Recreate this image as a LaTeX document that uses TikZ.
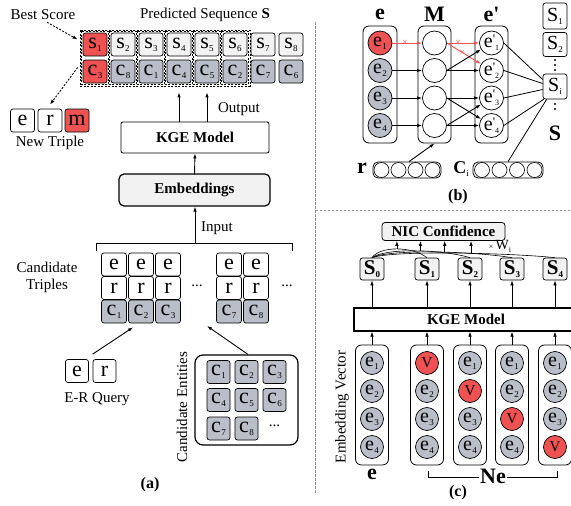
\documentclass[tikz,border=0pt]{standalone}
\usepackage{fontspec}
\setmainfont{Liberation Serif}
\usetikzlibrary{arrows.meta,calc}
\definecolor{cred}{RGB}{238,82,82}
\definecolor{cgray}{RGB}{186,190,200}
\definecolor{clight}{RGB}{242,242,242}
\definecolor{cline}{RGB}{150,150,150}
\newcommand\bigf{\fontsize{22}{22}\selectfont}
\newcommand\midf{\fontsize{20}{20}\selectfont}
\newcommand\lblf{\fontsize{15}{17}\selectfont}
\newcommand\bx[2]{#1\kern0.3pt\raisebox{-3pt}{\fontsize{9}{9}\selectfont #2}}
\newcommand\ep[1]{e\raisebox{4pt}{\fontsize{13}{13}\selectfont\textquotesingle}\raisebox{-3pt}{\fontsize{8}{8}\selectfont #1}}
\begin{document}
\begin{tikzpicture}[x=1pt,y=-1pt,
  sq/.style={draw, rounded corners=2.5pt, line width=0.7pt, minimum width=24pt, minimum height=23pt, inner sep=0pt, font=\bigf},
  circ/.style={draw, circle, line width=0.7pt, minimum size=24pt, inner sep=0pt, font=\midf},
  small/.style={draw, circle, line width=0.6pt, minimum size=15pt, inner sep=0pt},
  cont/.style={draw, rounded corners=6pt, line width=0.8pt, inner sep=0pt},
  lbl/.style={font=\lblf, inner sep=1pt},
  arr/.style={-{Latex[length=5pt,width=3.5pt]}, line width=0.9pt},
  xmark/.style={text=cred, font=\fontsize{10}{10}\selectfont, inner sep=0},
  dsh/.style={dash pattern=on 2pt off 1.5pt, line width=0.6pt},
  sep/.style={cline, dash pattern=on 2.5pt off 1.5pt, line width=0.9pt},
  plain/.style={line width=0.8pt}]
\useasboundingbox (0,0) rectangle (571,506);

% ---------------- (a) ----------------
\node[lbl] (best) at (43,15) {Best Score};
\node[lbl] (pred) at (205,15) {Predicted Sequence \textbf{S}};

\foreach \i/\c [count=\k] in {1/3,2/8,3/1,4/4,5/5,6/2,7/7,8/6}{
  \pgfmathsetmacro\xx{95+28*(\k-1)}
  \ifnum\k=1 \def\fa{cred}\def\fb{cred}\else\def\fa{clight}\def\fb{cgray}\fi
  \node[sq, fill=\fa] (s\k) at (\xx,44.5) {\bx{s}{\i}};
  \node[sq, fill=\fb] (c\k) at (\xx,71.5) {\bx{c}{\c}};
}
\foreach \k in {1,...,6}{
  \draw[dsh] ($(s\k.north west)+(-1.2,-1.2)$) rectangle ($(c\k.south east)+(1.2,1.2)$);
}
\draw[dsh] ($(s1.north west)+(-2.5,-2.5)$) rectangle ($(c6.south east)+(2.5,2.5)$);

\node[sq] (ne) at (22.5,120.5) {e};
\node[sq] (nr) at (50,120.5) {r};
\node[sq, fill=cred] (nm) at (77,120.5) {m};
\node[lbl] (newt) at (50,143) {New Triple};

\draw[dsh, line width=0.9pt, -{Latex[length=5pt,width=3.5pt]}] ($(best.south)+(4,1)$) -- ($(s1.west)+(-5,-5)$);
\draw[dsh, line width=0.9pt, -{Latex[length=5pt,width=3.5pt]}] ($(c1.west)+(-5,-4)$) -- ($(nr.north)+(0,-4)$);

\node[draw, rounded corners=2pt, line width=0.8pt, minimum width=148pt, minimum height=31pt, font=\lblf\bfseries] (kge) at (195,137.5) {KGE Model};
\node[draw, fill=clight, rounded corners=5pt, line width=1.2pt, minimum width=151pt, minimum height=32pt, font=\lblf\bfseries] (emb) at (194.5,190) {Embeddings};

\draw[arr] (kge.north -| c4) -- ($(c4.south)+(0,9)$);
\draw[arr] (kge.north -| c5) -- ($(c5.south)+(0,9)$);
\node[lbl] (outl) at (239,109) {Output};
\draw[arr] (emb.south |- kge.south) ++(0,21) -- (kge.south);

% candidate triples
\foreach \i/\x in {1/114,2/141,3/168,7/229,8/256}{
  \node[sq, minimum width=25pt] (te\i) at (\x,264.5) {e};
  \node[sq, minimum width=25pt] (tr\i) at (\x,288) {r};
  \node[sq, minimum width=25pt, fill=cgray] (tc\i) at (\x,311.5) {\bx{c}{\i}};
}
\node[lbl] (dots1) at (197,286) {...};
\node[lbl] (dots2) at (287,286) {...};
\coordinate (brc) at (195,243);
\draw[plain] ($(te1.north west)+(-5,-2)$) -- ($(te1.north west)+(-5,-9)$) -- ($(te8.north east)+(24,-9)$) -- ($(te8.north east)+(24,-2)$);
\draw[arr] (brc) -- (brc |- emb.south);
\node[lbl] (inl) at (217,228) {Input};
\node[lbl, align=center] (ctl) at (47,277) {Candidate\\Triples};

% E-R query
\node[sq, minimum width=23pt] (qe) at (77,371) {e};
\node[sq, minimum width=23pt] (qr) at (104.5,371) {r};
\node[lbl] (erq) at (97,399) {E-R Query};
\coordinate (qtip) at ($(tc2.south)+(-8,4)$);
\draw[arr] ($(qr.north west)+(0,-5)$) -- (qtip);

% candidate entities
\node[draw, rounded corners=8pt, line width=1.2pt, minimum width=103pt, minimum height=90pt] (cent) at (246.5,400) {};
\foreach \i/\x/\y in {1/218.5/372,2/246.5/372,3/274.5/372,4/218.5/400,5/246.5/400,6/274.5/400,7/218.5/428.5,8/246.5/428.5}{
  \node[sq, minimum width=23pt, minimum height=23pt, fill=cgray] (g\i) at (\x,\y) {\bx{c}{\i}};
}
\node[lbl] (dots3) at (274.5,426) {...};
\node[lbl, rotate=90] (centl) at (182,407) {Candidate Entities};
\coordinate (ctip) at (207,326);
\draw[arr] ($(cent.north)+(1.5,0)$) -- (ctip);
\node[font=\fontsize{16}{16}\selectfont\bfseries] (la) at (150,485) {(a)};

% separators
\draw[sep] (315.5,22) -- (315.5,493);
\draw[sep] (315.5,210) -- (571,210);

% ---------------- (b) ----------------
\node[font=\fontsize{22}{22}\selectfont\bfseries] (lbe) at (380,14) {e};
\node[font=\fontsize{22}{22}\selectfont\bfseries] (lbm) at (434.5,14) {M};
\node[font=\fontsize{22}{22}\selectfont\bfseries] (lbep) at (491.5,14) {e\textquotesingle};

\node[cont, minimum width=34pt, minimum height=117pt] (ebox) at (380,84.5) {};
\node[cont, minimum width=33pt, minimum height=117pt] (mbox) at (434.5,84.5) {};
\node[cont, minimum width=33pt, minimum height=117pt] (epbox) at (491.5,84.5) {};

\node[circ, fill=cred] (b1) at (380,43) {\bx{e}{1}};
\node[circ, fill=cgray] (b2) at (380,70.5) {\bx{e}{2}};
\node[circ, fill=cgray] (b3) at (380,98) {\bx{e}{3}};
\node[circ, fill=cgray] (b4) at (380,125.5) {\bx{e}{4}};
\foreach \k/\y in {1/43,2/70.5,3/98,4/125.5}{
  \node[circ] (m\k) at (434.5,\y) {};
  \node[circ] (p\k) at (491.5,\y) {\ep{\k}};
}
\draw[arr, cred] (b1) -- node[pos=0.42, xmark]{×} (m1);
\foreach \k in {2,3,4}{ \draw[arr] (b\k) -- (m\k); }
\draw[arr, cred] (m1.east) -- node[pos=0.35, xmark]{×} (p1);
\draw[arr, cred] (m1.east) -- node[pos=0.45, xmark]{×} (p2);
\draw[arr] (m2.east) -- (p1);
\draw[arr] (m2.east) -- (p2);
\draw[arr] (m3.east) -- (p3);
\draw[arr] (m3.east) -- (p4);
\draw[arr] (m4.east) -- (p3);
\draw[arr] (m4.east) -- (p4);

\node[sq, minimum height=26pt, font=\midf] (S1) at (555,16) {\bx{S}{1}};
\node[sq, minimum height=24pt, font=\midf] (S2) at (555,44.5) {\bx{S}{2}};
\node[sq, minimum height=25pt, font=\midf] (Si) at (555,86.5) {\bx{S}{i}};
\foreach \y in {60,65,70,104,109}{ \fill (555,\y) circle (1.1pt); }
\node[font=\fontsize{22}{22}\selectfont\bfseries] (lbS) at (555,133) {S};

\draw[plain] (p1.east) -- ($(Si.west)+(0,-7)$);
\draw[plain] (p2.east) -- ($(Si.west)+(0,-3)$);
\draw[plain] (p3.east) -- ($(Si.west)+(0,3)$);
\draw[plain] (p4.east) -- ($(Si.south west)+(1,0)$);

\node[cont, rounded corners=5pt, minimum width=68pt, minimum height=16pt] (rvec) at (407,170) {};
\foreach \k/\x in {1/381.5,2/398.5,3/415.5,4/432.5}{ \node[small] (r\k) at (\x,170) {}; }
\node[font=\fontsize{22}{22}\selectfont\bfseries] (lbr) at (362,168) {r};
\draw[arr] ($(rvec.north)+(2,0)$) -- (mbox.south);

\node[cont, rounded corners=5pt, minimum width=70pt, minimum height=16pt] (cvec) at (508,170) {};
\foreach \k/\x in {1/482,2/499.5,3/517,4/534.5}{ \node[small] (q\k) at (\x,170) {}; }
\node[font=\fontsize{18}{18}\selectfont] (lbc) at (461,169) {\textbf{C}\raisebox{-3pt}{\fontsize{9}{9}\selectfont i}};
\draw[plain] (cvec.north) -- ($(Si.south west)+(4,0)$);
\node[font=\fontsize{16}{16}\selectfont\bfseries] (lb) at (458,197) {(b)};

% ---------------- (c) ----------------
\node[draw, fill=clight, rounded corners=3pt, line width=0.8pt, minimum width=123pt, minimum height=18pt, inner sep=0pt, font=\lblf\bfseries] (nic) at (443.5,231.5) {NIC Confidence};
\foreach \j/\x in {0/372,1/427,2/470,3/512,4/555}{
  \node[sq, fill=clight, minimum height=22pt, font=\fontsize{21}{21}\selectfont\bfseries] (T\j) at (\x,269) {\bx{S}{\j}};
}
\draw[plain, line width=0.6pt] (T0.north) .. controls (380,246) and (412,246) .. (T1.north) coordinate[pos=0.5] (w1);
\draw[plain, line width=0.6pt] (T0.north) .. controls (385,248) and (440,249) .. (T2.north) coordinate[pos=0.55] (w2);
\draw[plain, line width=0.6pt] (T0.north) .. controls (390,249) and (470,251) .. (T3.north) coordinate[pos=0.57] (w3);
\draw[plain, line width=0.6pt] (T0.north) .. controls (395,250) and (510,253) .. (T4.north) coordinate[pos=0.57] (w4);
\foreach \k in {1,2,3,4}{ \draw[arr, line width=0.7pt] (w\k) -- (w\k |- nic.south); }
\node[font=\fontsize{14}{14}\selectfont, inner sep=0] (wi) at (500,246.5) {{\fontsize{8}{8}\selectfont ×}\,W\raisebox{-2.5pt}{\fontsize{8}{8}\selectfont i}};

\node[draw, line width=1.2pt, minimum width=224pt, minimum height=23pt, inner sep=0pt, font=\lblf\bfseries] (kge2) at (466,319.5) {KGE Model};
\foreach \j in {0,...,4}{ \draw[arr, line width=0.7pt] (kge2.north -| T\j) -- (T\j.south); }

\foreach \j/\x in {0/372,1/427,2/470,3/512,4/555}{
  \node[cont, minimum width=33pt, minimum height=120pt] (col\j) at (\x,405) {};
  \draw[arr, line width=0.7pt] (col\j.north) -- (col\j.north |- kge2.south);
  \foreach \k/\y in {1/363,2/391,3/419,4/447}{
    \ifnum\k=\j
      \node[circ, minimum size=23pt, fill=cred, font=\fontsize{15}{15}\selectfont] (v\j\k) at (\x,\y) {V};
    \else
      \node[circ, minimum size=23pt, fill=cgray] (v\j\k) at (\x,\y) {\bx{e}{\k}};
    \fi
  }
}
\node[font=\fontsize{22}{22}\selectfont\bfseries] (lbe2) at (372,474) {e};
\node[font=\fontsize{22}{22}\selectfont\bfseries, fill=white, inner sep=1pt] (lbne) at (493,476) {Ne};
\draw[plain, line width=0.6pt] (428,471) -- (428,477) -- (lbne.west |- 428,477);
\draw[plain, line width=0.6pt] (lbne.east |- 557,477) -- (557,477) -- (557,471);
\node[lbl, rotate=90] (embv) at (342,407) {Embedding Vector};
\node[font=\fontsize{16}{16}\selectfont\bfseries] (lc) at (458,493) {(c)};
\end{tikzpicture}
\end{document}
